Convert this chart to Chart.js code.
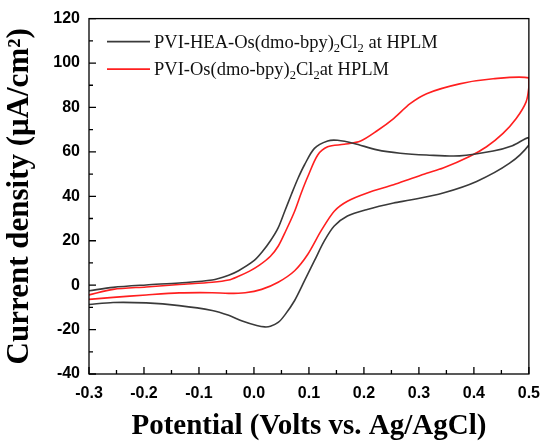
<!DOCTYPE html>
<html>
<head>
<meta charset="utf-8">
<script src="https://cdn.jsdelivr.net/npm/chart.js@4.4.1/dist/chart.umd.min.js"></script>
<style>
  html, body { margin: 0; padding: 0; background: #fff; }
  #wrap { width: 550px; height: 447px; }
</style>
</head>
<body>
<div id="wrap"><canvas id="cvChart" width="550" height="447"></canvas></div>
<script>
// values, in sweep order (out to 0.5 V, then back to -0.3 V)
const blackPotential = [
  -0.30, -0.256, -0.196, -0.136, -0.076, -0.046, -0.028, 0.0, 0.014, 0.03, 0.044, 0.056, 0.068, 0.08, 0.092,
  0.11, 0.134, 0.152, 0.182, 0.224, 0.266, 0.314, 0.374, 0.435, 0.47, 0.50,
  0.50, 0.465, 0.405, 0.344, 0.284, 0.254, 0.206, 0.17, 0.146, 0.128, 0.11, 0.092, 0.074, 0.056, 0.044,
  0.03, 0.02, 0.005, -0.02, -0.046, -0.076, -0.136, -0.196, -0.256, -0.30
];
const blackCurrent = [
  -2.5, -1.0, 0.1, 1.0, 2.3, 4.5, 6.5, 11.0, 14.7, 20.0, 25.8, 33.3, 40.8, 48.0, 54.2,
  61.6, 64.9, 65.2, 63.8, 60.9, 59.4, 58.6, 58.2, 60.4, 62.8, 66.4,
  63.1, 54.9, 46.7, 41.5, 38.3, 37.0, 34.1, 31.1, 26.6, 19.9, 11.0, 2.0, -6.9, -13.5, -16.8,
  -18.5, -18.8, -18.2, -16.3, -13.6, -11.4, -9.2, -8.0, -7.8, -8.7
];
const redPotential = [
  -0.30, -0.256, -0.196, -0.136, -0.076, -0.046, -0.028, -0.008, 0.01, 0.03, 0.044, 0.058, 0.074, 0.086, 0.098,
  0.116, 0.134, 0.164, 0.194, 0.224, 0.254, 0.284, 0.314, 0.374, 0.435, 0.50,
  0.50, 0.495, 0.477, 0.453, 0.423, 0.392, 0.344, 0.314, 0.284, 0.254, 0.206, 0.17, 0.146, 0.122, 0.098,
  0.074, 0.044, 0.014, -0.016, -0.046, -0.076, -0.136, -0.196, -0.256, -0.30
];
const redCurrent = [
  -4.4, -1.9, -0.8, 0.3, 1.3, 2.3, 4.0, 6.3, 9.0, 13.0, 17.5, 24.5, 33.3, 41.5, 48.9,
  58.6, 62.3, 63.4, 64.9, 69.5, 75.0, 81.7, 86.2, 90.6, 92.9, 93.3,
  89.2, 82.5, 75.0, 68.3, 62.3, 57.9, 52.7, 50.4, 47.8, 45.2, 41.5, 37.8, 33.3, 24.4, 13.9,
  6.5, 1.3, -1.9, -3.4, -3.7, -3.4, -3.5, -4.4, -5.5, -6.4
];

const seriesLabels = ['PVI-HEA-Os(dmo-bpy)₂Cl₂ at HPLM', 'PVI-Os(dmo-bpy)₂Cl₂at HPLM'];
const xTickValues = [-0.3, -0.2, -0.1, 0.0, 0.1, 0.2, 0.3, 0.4, 0.5];
const yTickValues = [-40, -20, 0, 20, 40, 60, 80, 100, 120];

function toPoints(xs, ys) {
  return xs.map((x, i) => ({ x: x, y: ys[i] }));
}

// half-way ticks between the labelled ones
function midpoints(vals) {
  const out = [];
  for (let i = 0; i < vals.length - 1; i++) out.push((vals[i] + vals[i + 1]) / 2);
  return out;
}

// box round the plot and inward ticks
const frameAndTicks = {
  id: 'frameAndTicks',
  afterDatasetsDraw(chart) {
    const { ctx, chartArea: a, scales: { x, y } } = chart;
    ctx.save();
    ctx.strokeStyle = '#000';
    ctx.lineWidth = 1.3;
    ctx.strokeRect(a.left, a.top, a.right - a.left, a.bottom - a.top);
    ctx.beginPath();
    xTickValues.forEach(v => { const px = x.getPixelForValue(v); ctx.moveTo(px, a.bottom); ctx.lineTo(px, a.bottom - 7); });
    midpoints(xTickValues).forEach(v => { const px = x.getPixelForValue(v); ctx.moveTo(px, a.bottom); ctx.lineTo(px, a.bottom - 4); });
    yTickValues.forEach(v => { const py = y.getPixelForValue(v); ctx.moveTo(a.left, py); ctx.lineTo(a.left + 7, py); });
    midpoints(yTickValues).forEach(v => { const py = y.getPixelForValue(v); ctx.moveTo(a.left, py); ctx.lineTo(a.left + 4, py); });
    ctx.stroke();
    ctx.restore();
  }
};

// legend with real subscripts
const subLegend = {
  id: 'subLegend',
  afterDraw(chart) {
    const { ctx, chartArea: a } = chart;
    ctx.save();
    chart.data.datasets.forEach((ds, i) => {
      const yLine = a.top + 23 + i * 27.5;
      ctx.strokeStyle = ds.borderColor;
      ctx.lineWidth = 1.6;
      ctx.beginPath();
      ctx.moveTo(a.left + 18, yLine);
      ctx.lineTo(a.left + 61, yLine);
      ctx.stroke();

      let xPos = a.left + 65;
      const base = yLine + 6;
      ctx.fillStyle = '#111';
      ctx.textBaseline = 'alphabetic';
      ds.label.split(/(₂)/).forEach(part => {
        if (!part) return;
        if (part === '₂') {
          ctx.font = '12.5px "Liberation Serif"';
          ctx.fillText('2', xPos, base + 4);
          xPos += ctx.measureText('2').width;
        } else {
          ctx.font = '18.5px "Liberation Serif"';
          ctx.fillText(part, xPos, base);
          xPos += ctx.measureText(part).width;
        }
      });
    });
    ctx.restore();
  }
};

const tickFont = { family: 'Liberation Sans', size: 16, weight: 'bold' };

new Chart(document.getElementById('cvChart'), {
  type: 'scatter',
  data: {
    datasets: [{
      label: seriesLabels[0],
      data: toPoints(blackPotential, blackCurrent),
      showLine: true,
      borderColor: '#3a3a3a',
      borderWidth: 1.6,
      pointRadius: 0,
      tension: 0.3
    }, {
      label: seriesLabels[1],
      data: toPoints(redPotential, redCurrent),
      showLine: true,
      borderColor: '#ff1f1f',
      borderWidth: 1.6,
      pointRadius: 0,
      tension: 0.3
    }]
  },
  options: {
    responsive: false,
    animation: false,
    layout: { padding: { top: 16, right: 17, left: 0, bottom: 0 } },
    plugins: { legend: { display: false }, tooltip: { enabled: false } },
    scales: {
      x: {
        type: 'linear',
        min: -0.3,
        max: 0.5,
        afterBuildTicks: s => { s.ticks = xTickValues.map(v => ({ value: v })); },
        afterFit: s => { s.height = 73; },
        grid: { display: false, drawTicks: false },
        border: { display: false },
        ticks: { font: tickFont, color: '#000', padding: 10, maxRotation: 0, autoSkip: false, callback: v => v.toFixed(1) },
        title: {
          display: true, text: 'Potential (Volts vs. Ag/AgCl)', color: '#000',
          font: { family: 'Liberation Serif', size: 29, weight: 'bold' },
          padding: { top: 0, bottom: 3 }
        }
      },
      y: {
        type: 'linear',
        min: -40,
        max: 120,
        afterBuildTicks: s => { s.ticks = yTickValues.map(v => ({ value: v })); },
        afterFit: s => { s.width = 89; },
        grid: { display: false, drawTicks: false },
        border: { display: false },
        ticks: { font: tickFont, color: '#000', padding: 9, autoSkip: false, callback: v => String(v) },
        title: {
          display: true, text: 'Current density (μA/cm²)', color: '#000',
          font: { family: 'Liberation Serif', size: 31, weight: 'bold' },
          padding: { top: 1, bottom: 0 }
        }
      }
    }
  },
  plugins: [frameAndTicks, subLegend]
});
</script>
</body>
</html>
